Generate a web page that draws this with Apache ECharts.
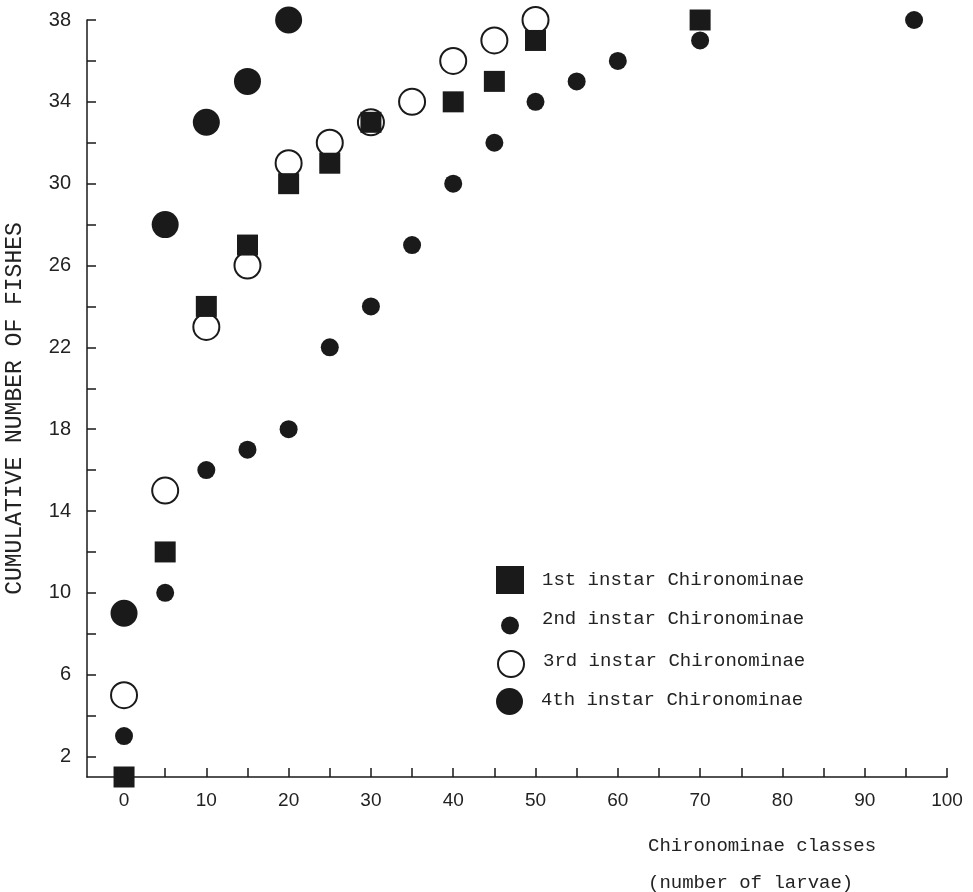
<!DOCTYPE html>
<html lang="en">
<head>
    <meta charset="UTF-8">
    <title>Chironominae</title>
    <script type="text/javascript" src="https://cdn.jsdelivr.net/npm/echarts@6/dist/echarts.min.js"></script>
    <style>
        html, body {margin: 0; padding: 0; background: #fff;}
    </style>
</head>
<body>
<div id="chart" style="width: 973px;height: 892px"></div>
<script type="text/javascript">
    // values
    var names = ['1st instar Chironominae', '2nd instar Chironominae',
                 '3rd instar Chironominae', '4th instar Chironominae'];
    var inst1X = [0, 5, 10, 15, 20, 25, 30, 40, 45, 50, 70];
    var inst1Y = [1, 12, 24, 27, 30, 31, 33, 34, 35, 37, 38];
    var inst2X = [0, 5, 10, 15, 20, 25, 30, 35, 40, 45, 50, 55, 60, 70, 96];
    var inst2Y = [3, 10, 16, 17, 18, 22, 24, 27, 30, 32, 34, 35, 36, 37, 38];
    var inst3X = [0, 5, 10, 15, 20, 25, 30, 35, 40, 45, 50];
    var inst3Y = [5, 15, 23, 26, 31, 32, 33, 34, 36, 37, 38];
    var inst4X = [0, 5, 10, 15, 20];
    var inst4Y = [9, 28, 33, 35, 38];
    var xTicks = [5, 10, 15, 20, 25, 30, 35, 40, 45, 50, 55, 60, 65, 70, 75, 80, 85, 90, 95, 100];
    var xLabels = [0, 10, 20, 30, 40, 50, 60, 70, 80, 90, 100];
    var yTicks = [2, 4, 6, 8, 10, 12, 14, 16, 18, 20, 22, 24, 26, 28, 30, 32, 34, 36, 38];
    var yLabels = [2, 6, 10, 14, 18, 22, 26, 30, 34, 38];

    function pairs(xs, ys) {
        return xs.map(function (x, i) { return [x, ys[i]]; });
    }

    var ink = '#1a1a1a';
    var mono = 'Liberation Mono';
    var sans = 'Liberation Sans';

    // one legend per entry so every marker keeps its own size
    function legendFor(name, size, left, top, padText) {
        return {
            data: [name],
            orient: 'vertical',
            left: left,
            top: top,
            padding: 0,
            itemWidth: size,
            itemHeight: size,
            selectedMode: false,
            formatter: '{t|{name}}',
            textStyle: {
                fontFamily: mono, fontSize: 19, color: '#222',
                rich: {t: {fontFamily: mono, fontSize: 19, color: '#222', padding: padText}}
            }
        };
    }

    var chart = echarts.init(document.getElementById('chart'));
    var option = {
        animation: false,
        backgroundColor: '#fff',
        title: {
            text: 'Chironominae classes\n(number of larvae)',
            left: 648,
            top: 827,
            padding: 0,
            textStyle: {fontFamily: mono, fontSize: 19, fontWeight: 'normal', color: '#222', lineHeight: 37}
        },
        grid: {left: 87, right: 26, top: 20, bottom: 115, containLabel: false, outerBoundsMode: 'none'},
        legend: [
            legendFor(names[0], 28, 496, 566, [0, 0, 0, 13]),
            legendFor(names[1], 18, 501, 609, [0, 0, 14, 18]),
            legendFor(names[2], 26, 497, 650, [0, 0, 6, 14]),
            legendFor(names[3], 27, 496, 688, [0, 0, 4, 13])
        ],
        xAxis: {
            type: 'value',
            min: -4.5,
            max: 100,
            axisLine: {onZero: false, lineStyle: {color: ink, width: 1.5}},
            axisTick: {inside: true, length: 9, customValues: xTicks, lineStyle: {color: ink, width: 1.5}},
            axisLabel: {customValues: xLabels, margin: 14, fontFamily: sans, fontSize: 19, color: '#222'},
            splitLine: {show: false}
        },
        yAxis: {
            type: 'value',
            min: 1,
            max: 38,
            name: 'CUMULATIVE NUMBER OF FISHES',
            nameLocation: 'middle',
            nameGap: 61,
            nameTextStyle: {fontFamily: mono, fontSize: 23, color: '#222', padding: [0, 20, 0, 0]},
            axisLine: {onZero: false, lineStyle: {color: ink, width: 1.5}},
            axisTick: {inside: true, length: 9, customValues: yTicks, lineStyle: {color: ink, width: 1.5}},
            axisLabel: {customValues: yLabels, margin: 16, fontFamily: sans, fontSize: 20, color: '#222'},
            splitLine: {show: false}
        },
        series: [
            {
                name: names[3], type: 'scatter', symbol: 'circle', symbolSize: 27,
                itemStyle: {color: ink, opacity: 1},
                emphasis: {disabled: true},
                data: pairs(inst4X, inst4Y)
            },
            {
                name: names[2], type: 'scatter', symbol: 'circle', symbolSize: 26,
                itemStyle: {color: '#fff', borderColor: ink, borderWidth: 2, opacity: 1},
                emphasis: {disabled: true},
                data: pairs(inst3X, inst3Y)
            },
            {
                name: names[1], type: 'scatter', symbol: 'circle', symbolSize: 18,
                itemStyle: {color: ink, opacity: 1},
                emphasis: {disabled: true},
                data: pairs(inst2X, inst2Y)
            },
            {
                name: names[0], type: 'scatter', symbol: 'rect', symbolSize: 21,
                itemStyle: {color: ink, opacity: 1},
                emphasis: {disabled: true},
                data: pairs(inst1X, inst1Y)
            }
        ]
    };
    chart.setOption(option, true);
</script>
</body>
</html>
